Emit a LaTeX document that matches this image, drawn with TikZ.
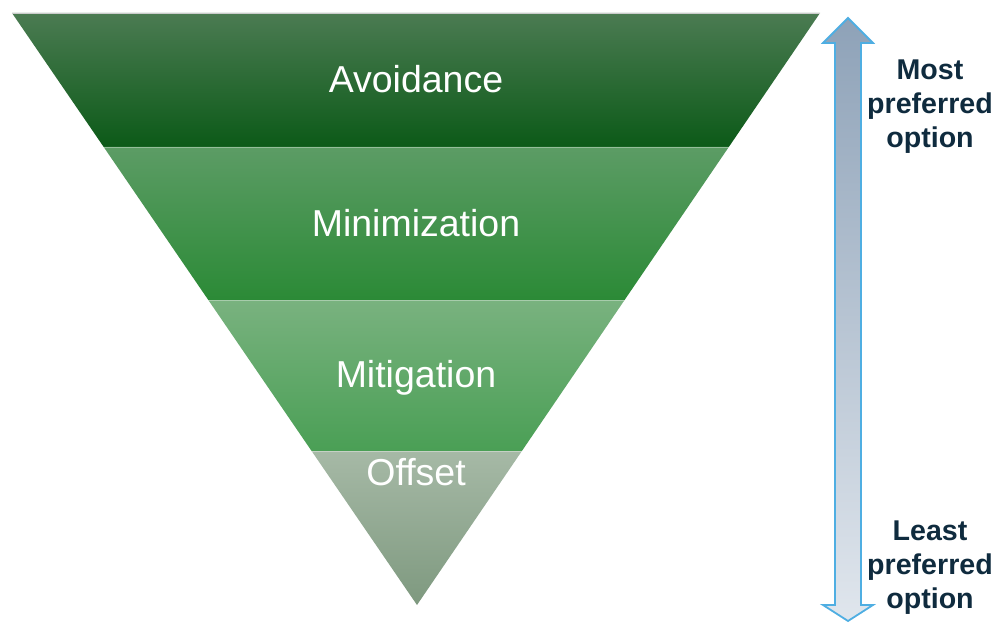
\documentclass[tikz,border=0pt]{standalone}
\usepackage{fontspec}
\setmainfont{Liberation Sans}
\definecolor{avT}{HTML}{4B7B52}
\definecolor{avM}{HTML}{136A23}
\definecolor{avB}{HTML}{0C5A18}
\definecolor{miT}{HTML}{5C9C65}
\definecolor{miB}{HTML}{2B8A36}
\definecolor{mgT}{HTML}{79B27F}
\definecolor{mgB}{HTML}{4A9F55}
\definecolor{ofT}{HTML}{A6B9A6}
\definecolor{ofB}{HTML}{7E997F}
\definecolor{arT}{HTML}{8EA2B8}
\definecolor{arB}{HTML}{E0E6ED}
\definecolor{arE}{HTML}{4FAEE2}
\definecolor{navy}{HTML}{0F2B3E}
\tikzset{
  band/.style={line width=0pt},
  bandlabel/.style={text=white, font=\fontsize{37.5}{42}\selectfont, inner sep=0pt},
  sidelabel/.style={text=navy, font=\fontsize{28.6}{34}\selectfont\bfseries, align=center, inner sep=0pt},
  sep/.style={draw=white, opacity=0.35, line width=0.8pt}
}
\begin{document}
\begin{tikzpicture}[x=1pt,y=-1pt]
\useasboundingbox (0,0) rectangle (1005,623);
% bands
\shade[band, top color=avT, middle color=avM, bottom color=avB] (12,13) -- (820,13) -- (728.8,147) -- (103.7,147) -- cycle;
\shade[band, top color=miT, bottom color=miB] (103.7,147) -- (728.8,147) -- (624.6,300) -- (208.3,300) -- cycle;
\shade[band, top color=mgT, bottom color=mgB] (208.3,300) -- (624.6,300) -- (521.9,451) -- (311.6,451) -- cycle;
\shade[band, top color=ofT, bottom color=ofB] (311.6,451) -- (521.9,451) -- (417,605) -- cycle;
\draw[draw=gray!40, line width=0.8pt] (12,13) -- (820,13);
\draw[sep] (103.7,147) -- (728.8,147);
\draw[sep] (208.3,300) -- (624.6,300);
\draw[sep] (311.6,451) -- (521.9,451);
% labels
\node[bandlabel] (avoid) at (416,79) {Avoidance};
\node[bandlabel] (mini) at (416,223) {Minimization};
\node[bandlabel] (miti) at (416,378) {Mitigation};
\node[bandlabel] (offs) at (416,472) {Offset};
% arrow
\shade[top color=arT, bottom color=arB] (848,18) -- (873,43) -- (861,43) -- (861,605) -- (873,605) -- (848,621) -- (823,605) -- (835,605) -- (835,43) -- (823,43) -- cycle;
\draw[arE, line width=1.8pt, line join=miter] (848,18) -- (873,43) -- (861,43) -- (861,605) -- (873,605) -- (848,621) -- (823,605) -- (835,605) -- (835,43) -- (823,43) -- cycle;
\node[sidelabel] (most) at (930,106.5) {Most\\preferred\\option};
\node[sidelabel] (least) at (930,567.5) {Least\\preferred\\option};
\end{tikzpicture}
\end{document}
